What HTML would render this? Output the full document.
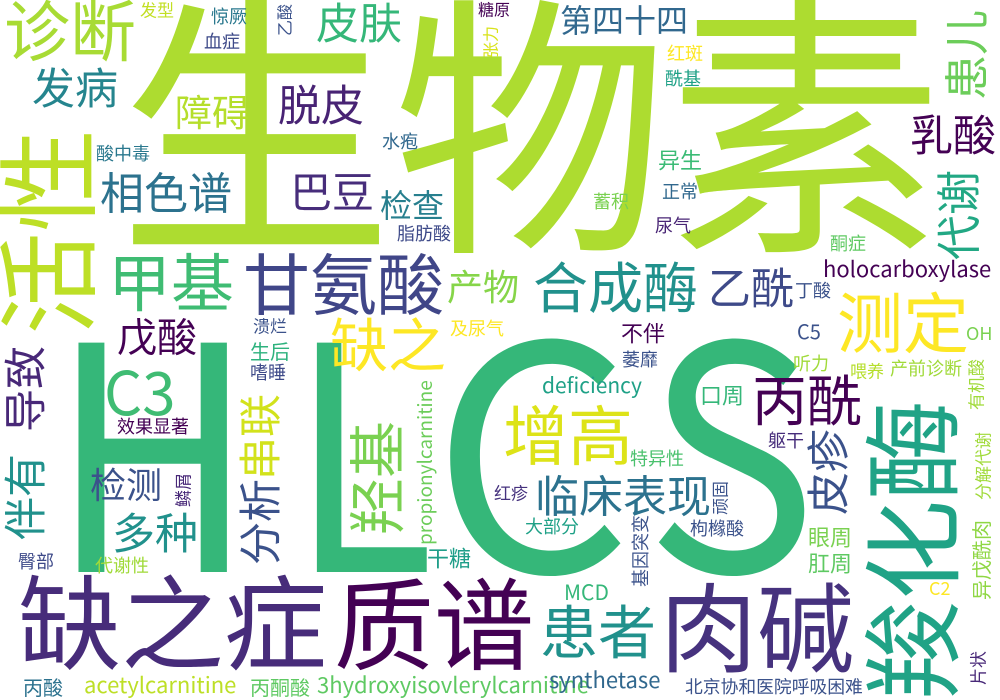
<!DOCTYPE html>
<html><head><meta charset="utf-8">
<style>
html,body{margin:0;padding:0;background:#fff;}
svg{display:block;}
text{font-family:"Noto Sans CJK SC","Liberation Sans",sans-serif;}
</style></head>
<body>
<svg id="cloud" width="1000" height="700" viewBox="0 0 1000 700" xmlns="http://www.w3.org/2000/svg">
<rect width="1000" height="700" fill="#ffffff"/>
<g id="hlcs" fill="#35b779" font-size="313">
<text x="50" y="572" transform="translate(50,0) scale(0.9,1) translate(-50,0)">H</text>
<text x="290" y="572" transform="translate(290,0) scale(0.85,1) translate(-290,0)">L</text>
<text x="432" y="572">C</text>
<text x="645" y="572" transform="translate(645,0) scale(0.92,1) translate(-645,0)">S</text>
</g>
</svg>
<script>
// word, x-left, y-top (visual), font size, colour, rotated(1 = reads bottom-to-top), rotated start y
const words = [
["生物素",118,0,275,"#addc30",0],
["诊断",4,0,66,"#a8db34",0],
["发型",140,2,17,"#c2df23",0],
["惊厥",211,8,18,"#2a788e",0],
["血症",204,33,18,"#3e4a89",0],
["乙酸",277,3,16,"#3b528b",1,36],
["皮肤",316,3,43,"#35b779",0],
["糖原",478,2,16,"#440154",0],
["张力",483,27,16,"#d8e219",1,58],
["发病",32,68,43,"#25858e",0],
["障碍",175,95,37,"#b5de2b",0],
["脱皮",278,85,43,"#482374",0],
["水疱",382,133,18,"#31688e",0],
["酸中毒",96,145,18,"#2a788e",0],
["相色谱",100,172,44,"#2c728e",0],
["巴豆",290,172,42,"#472d7b",0],
["检查",380,190,32,"#277f8e",0],
["脂肪酸",397,225,18,"#3e4a89",0],
["活性",0,125,103,"#bddf26",1,335],
["甲基",108,253,63,"#3fbc73",0],
["甘氨酸",243,253,67,"#404688",0],
["产物",447,270,36,"#86d549",0],
["戊酸",117,318,40,"#440154",0],
["溃烂",253,318,17,"#3b528b",0],
["缺之",330,318,58,"#fde725",0],
["及尿气",450,320,18,"#fde725",0],
["生后",250,342,20,"#2db27d",0],
["嗜睡",250,364,18,"#3e4a89",0],
["第四十四",560,5,32,"#31688e",0],
["红斑",667,45,18,"#fde725",0],
["酰基",665,70,18,"#1fa187",0],
["患儿",945,15,45,"#6ccd5a",1,100],
["乳酸",910,115,43,"#440154",0],
["异生",658,150,22,"#3bbb75",0],
["正常",662,183,18,"#31688e",0],
["蓄积",593,193,18,"#7ad151",0],
["尿气",655,217,18,"#482475",0],
["代谢",937,170,45,"#22a884",1,260],
["酮症",830,235,18,"#5ec962",0],
["合成酶",533,262,55,"#21918c",0],
["乙酰",708,268,43,"#3e4a89",0],
["丁酸",795,282,18,"#3b528b",0],
["测定",837,292,66,"#fde725",0],
["不伴",621,323,22,"#440154",0],
["导致",5,330,43,"#482878",1,432],
["效果显著",117,418,18,"#440154",0],
["伴有",5,455,43,"#21918c",1,540],
["检测",90,468,36,"#3b528b",0],
["鳞屑",175,473,17,"#482878",1,507],
["多种",112,513,43,"#21918c",0],
["臀部",18,553,18,"#3e4a89",0],
["代谢性",95,557,18,"#a0da39",0],
["串联",240,395,43,"#d2e21b",1,480],
["分析",240,480,43,"#3b528b",1,565],
["羟基",350,400,57,"#7ad151",1,535],
["干糖",427,548,22,"#1f9e89",0],
["缺之症",18,575,103,"#472c7a",0],
["质谱",334,578,100,"#440154",0],
["丙酸",23,678,20,"#2c728e",0],
["丙酮酸",250,678,20,"#5ec962",0],
["萎靡",622,351,18,"#3b528b",0],
["听力",793,355,18,"#a0da39",0],
["喂养",850,363,17,"#b5de2b",0],
["产前诊断",890,360,18,"#a0da39",0],
["有机酸",968,360,17,"#a0da39",1,410],
["口周",700,385,22,"#35b779",0],
["丙酰",752,375,55,"#440154",0],
["羧化酶",866,380,100,"#20a386",1,700],
["增高",503,405,65,"#dde318",0],
["躯干",768,432,18,"#472d7b",0],
["皮疹",808,430,43,"#3b528b",1,515],
["特异性",630,450,18,"#4ac16d",0],
["分解代谢",975,430,17,"#a0da39",1,500],
["红疹",494,485,17,"#46327e",0],
["临床表现",535,475,44,"#2c728e",0],
["顽固",712,480,17,"#3b528b",1,515],
["大部分",525,518,18,"#1fa187",0],
["枸橼酸",690,520,18,"#3b528b",0],
["眼周",808,527,22,"#7ad151",0],
["异戊酰肉",972,510,20,"#8fd744",1,600],
["基因突变",632,518,18,"#3b528b",1,587],
["肛周",808,553,22,"#5ec962",0],
["患者",540,605,58,"#21918c",0],
["肉碱",660,583,97,"#46327e",0],
["片状",970,645,17,"#482878",1,685],
["北京协和医院呼吸困难",685,678,17.8,"#3b528b",0]
];
// latin words: text, x, baseline y, size, colour, rotated
const latin = [
["holocarboxylase",823,277,22,"#440154",0],
["C5",797,339,20,"#3b528b",0],
["OH",966,340,18,"#7ad151",0],
["C3",104,415,60,"#3fbc73",0],
["propionylcarnitine",432,545,19,"#6ccd5a",1],
["acetylcarnitine",84,693,22,"#bddf26",0],
["3hydroxyisovlerylcarnitine",317,693,22,"#5ec962",0],
["deficiency",542,393,21,"#1fa187",0],
["C2",929,595,18,"#fde725",0],
["MCD",564,600,21,"#35b779",0],
["synthetase",549,688,22,"#31688e",0]
];
const svg = document.getElementById('cloud');
const NS = "http://www.w3.org/2000/svg";
words.forEach(w => {
  const t = document.createElementNS(NS,'text');
  
  
  t.setAttribute('font-size', w[3]);
  t.setAttribute('fill', w[4]);
  t.textContent = w[0];
  if (w[5]) {
    const bx = w[1] + 0.84 * w[3];
    const by = w[6];
    t.setAttribute('transform', 'translate(' + bx + ',' + by + ') rotate(-90)');
  } else {
    t.setAttribute('x', w[1]);
    t.setAttribute('y', w[2] + 0.84 * w[3]);
  }
  svg.appendChild(t);
});
latin.forEach(w => {
  const t = document.createElementNS(NS,'text');
  
  
  t.setAttribute('font-size', w[3]);
  t.setAttribute('fill', w[4]);
  t.textContent = w[0];
  if (w[5]) {
    t.setAttribute('transform', 'translate(' + w[1] + ',' + w[2] + ') rotate(-90)');
  } else {
    t.setAttribute('x', w[1]);
    t.setAttribute('y', w[2]);
  }
  svg.appendChild(t);
});
</script>
</body></html>
